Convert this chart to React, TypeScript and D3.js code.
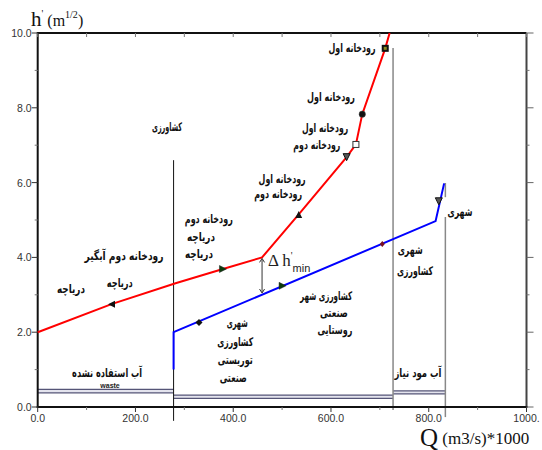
import React from "react";
import * as d3 from "d3";

const W = 542;
const H = 450;

// Red curve (supply side)
const redQ = [0, 151, 282, 379, 459, 534, 632, 651, 664, 711, 720];
const redH = [2.0, 2.75, 3.31, 3.69, 4.0, 5.15, 6.68, 7.02, 7.83, 9.59, 10.0];

// Blue curve (demand side)
const blueQ = [278, 278, 814, 831.5];
const blueH = [1.0, 2.0, 4.97, 5.98];

// Markers on curves
const redMarkQ = [151, 379, 534, 632, 651, 664, 711];
const redMarkH = [2.75, 3.69, 5.15, 6.68, 7.02, 7.83, 9.59];
const redMarkType = ["triL", "triR", "triU", "triD", "sqO", "circ", "sqF"];
const blueMarkQ = [330, 501, 705, 820.6];
const blueMarkH = [2.26, 3.24, 4.36, 5.5];
const blueMarkType = ["dia", "triR", "diaS", "triD"];

// Axis ticks
const xTickMajor = [0, 200, 400, 600, 800, 1000];
const xTickMinor = [100, 300, 500, 700, 900];
const xTickLabels = ["0.0", "200.0", "400.0", "600.0", "800.0", "1000."];
const yTickMajor = [0, 2, 4, 6, 8, 10];
const yTickMinor = [1, 3, 5, 7, 9];
const yTickLabels = ["0.0", "2.0", "4.0", "6.0", "8.0", "10.0"];

// Separators (Q, hTop, hBottom)
const sepQ = [278, 727];
const sepTop = [6.6, 9.6];
const sepBot = [-0.37, -0.08];

// Water level bands: [Q0, Q1, hUpper, hLower]
const bandQ0 = [0, 278, 727];
const bandQ1 = [278, 727, 834];
const bandHi = [0.47, 0.32, 0.43];
const bandLo = [0.38, 0.23, 0.35];

// Annotations (Persian text) in data coords
const labelText = [
  "کشاورزی",
  "رودخانه اول",
  "رودخانه اول",
  "رودخانه اول",
  "رودخانه دوم",
  "رودخانه اول",
  "رودخانه دوم",
  "رودخانه دوم",
  "دریاچه",
  "دریاچه",
  "رودخانه دوم آبگیر",
  "دریاچه",
  "دریاچه",
  "آب استفاده نشده",
  "شهری",
  "کشاورزی",
  "توریستی",
  "صنعتی",
  "کشاورزی شهر",
  "صنعتی",
  "روستایی",
  "شهری",
  "کشاورزی",
  "شهری",
  "آب مود نیاز",
];
const labelQ = [264.5, 643, 600, 588, 571, 500, 492, 350, 334, 330, 176.5, 168, 68, 142, 408, 404, 404, 400, 590, 606, 608, 762, 772, 864, 778];
const labelH = [7.49, 9.6, 8.29, 7.46, 7.01, 6.12, 5.72, 5.05, 4.57, 4.1, 4.04, 3.32, 3.16, 0.91, 2.25, 1.74, 1.26, 0.8, 2.99, 2.54, 2.06, 4.2, 3.66, 5.24, 0.91];
const labelW = [30, 47, 48, 46, 47, 47, 48, 48, 28, 28, 79, 26, 28, 70, 21, 36, 35, 27, 52, 28, 35, 25, 36, 25, 47];

const x = d3.scaleLinear().domain([0, 1000]).range([37.7, 526.5]);
const y = d3.scaleLinear().domain([0, 10]).range([407, 33]);

function Marker({ type, cx, cy }: { type: string; cx: number; cy: number }) {
  const s = 3.5;
  switch (type) {
    case "triL":
      return <path d={`M${cx - s},${cy} L${cx + s},${cy - s} L${cx + s},${cy + s} Z`} fill="#111" />;
    case "triR":
      return <path d={`M${cx + s},${cy} L${cx - s},${cy - s} L${cx - s},${cy + s} Z`} fill="#0b3b0b" stroke="#222" strokeWidth={0.5} />;
    case "triU":
      return <path d={`M${cx},${cy - s} L${cx + s},${cy + s} L${cx - s},${cy + s} Z`} fill="#111" />;
    case "triD":
      return <path d={`M${cx},${cy + s} L${cx + s},${cy - s} L${cx - s},${cy - s} Z`} fill="#555" stroke="#111" strokeWidth={1} />;
    case "sqO":
      return <rect x={cx - 3} y={cy - 3} width={6} height={6} fill="white" stroke="#333" strokeWidth={1} />;
    case "circ":
      return <circle cx={cx} cy={cy} r={3.2} fill="#111" stroke="#444" strokeWidth={0.5} />;
    case "sqF":
      return (
        <g>
          <rect x={cx - 3.5} y={cy - 3.5} width={7} height={7} fill="#111" />
          <rect x={cx - 1.5} y={cy - 1.5} width={3} height={3} fill="#8a8a20" />
        </g>
      );
    case "dia":
      return <path d={`M${cx},${cy - s} L${cx + s},${cy} L${cx},${cy + s} L${cx - s},${cy} Z`} fill="#111" />;
    case "diaS":
      return <path d={`M${cx},${cy - 3} L${cx + 2.5},${cy} L${cx},${cy + 3} L${cx - 2.5},${cy} Z`} fill="#7a1020" />;
    default:
      return null;
  }
}

export default function App() {
  const line = d3
    .line<[number, number]>()
    .x((d) => x(d[0]))
    .y((d) => y(d[1]));
  const redPts: [number, number][] = redQ.map((q, i) => [q, redH[i]]);
  const bluePts: [number, number][] = blueQ.map((q, i) => [q, blueH[i]]);

  const persianFont = "'DejaVu Sans', sans-serif";
  const tickFont = "'Liberation Sans', Arial, sans-serif";
  const serif = "'Liberation Serif', 'Times New Roman', serif";

  const dhQ = 459;
  const dhTop = 4.0;
  const dhBot = 3.02;

  return (
    <svg
      width={W}
      height={H}
      style={{ position: "absolute", left: 0, top: 0, background: "white" }}
    >
      <rect x={0} y={0} width={W} height={H} fill="white" />

      {/* water level bands */}
      {bandQ0.map((q0, i) => (
        <g key={"band" + i}>
          <rect
            x={x(q0)}
            y={y(bandHi[i])}
            width={x(bandQ1[i]) - x(q0)}
            height={y(bandLo[i]) - y(bandHi[i])}
            fill="#e4e4ee"
          />
          <line x1={x(q0)} x2={x(bandQ1[i])} y1={y(bandHi[i])} y2={y(bandHi[i])} stroke="#555577" strokeWidth={1.3} />
          <line x1={x(q0)} x2={x(bandQ1[i])} y1={y(bandLo[i])} y2={y(bandLo[i])} stroke="#555577" strokeWidth={1.3} />
        </g>
      ))}

      {/* separators */}
      <line x1={x(sepQ[0])} x2={x(sepQ[0])} y1={y(sepTop[0])} y2={y(sepBot[0])} stroke="#111" strokeWidth={1} />
      <line x1={x(sepQ[1])} x2={x(sepQ[1])} y1={y(sepTop[1])} y2={y(sepBot[1])} stroke="#888" strokeWidth={1.5} />
      <line x1={x(834)} x2={x(834)} y1={y(5.99)} y2={y(5.61)} stroke="#888" strokeWidth={1.5} />
      <line x1={x(834)} x2={x(834)} y1={y(5.08)} y2={y(-0.27)} stroke="#888" strokeWidth={1.5} />

      {/* axes */}
      <line x1={x(0)} x2={x(1000)} y1={y(10)} y2={y(10)} stroke="#111" strokeWidth={2} />
      <line x1={x(1000)} x2={x(1000)} y1={y(10)} y2={y(0)} stroke="#444" strokeWidth={2} />
      <line x1={x(0)} x2={x(0)} y1={y(10) - 1} y2={y(0) + 1} stroke="#111" strokeWidth={2} />
      <line x1={x(0) - 1} x2={x(1000) + 1} y1={y(0)} y2={y(0)} stroke="#111" strokeWidth={2} />

      {xTickMajor.map((v, i) => (
        <g key={"xt" + v}>
          <line x1={x(v)} x2={x(v)} y1={y(0)} y2={y(0) + 5} stroke="#333" />
          <line x1={x(v)} x2={x(v)} y1={y(10)} y2={y(10) + 4} stroke="#777" />
          <text x={x(v)} y={y(0) + 15} textAnchor="middle" fontSize={10.5} fontFamily={tickFont} fill="#333">
            {xTickLabels[i]}
          </text>
        </g>
      ))}
      {xTickMinor.map((v) => (
        <g key={"xm" + v}>
          <line x1={x(v)} x2={x(v)} y1={y(0)} y2={y(0) + 3} stroke="#777" />
          <line x1={x(v)} x2={x(v)} y1={y(10)} y2={y(10) + 4} stroke="#777" />
        </g>
      ))}
      {yTickMajor.map((v, i) => (
        <g key={"yt" + v}>
          <line x1={x(0) - 6} x2={x(0)} y1={y(v)} y2={y(v)} stroke="#333" />
          <line x1={x(1000)} x2={x(1000) + 7} y1={y(v)} y2={y(v)} stroke="#666" />
          <text x={x(0) - 6} y={y(v) + 4} textAnchor="end" fontSize={10.5} fontFamily={tickFont} fill="#333">
            {yTickLabels[i]}
          </text>
        </g>
      ))}
      {yTickMinor.map((v) => (
        <g key={"ym" + v}>
          <line x1={x(0) - 3} x2={x(0)} y1={y(v)} y2={y(v)} stroke="#777" />
          <line x1={x(1000)} x2={x(1000) + 3} y1={y(v)} y2={y(v)} stroke="#777" />
        </g>
      ))}

      {/* curves */}
      <path d={line(redPts) || ""} fill="none" stroke="#ff0000" strokeWidth={2} />
      <path d={line(bluePts) || ""} fill="none" stroke="#0000ff" strokeWidth={2} />

      {/* delta h arrow */}
      <line x1={x(dhQ)} x2={x(dhQ)} y1={y(dhTop) + 2} y2={y(dhBot) - 2} stroke="#333" strokeWidth={1} />
      <path d={`M${x(dhQ) - 2.5},${y(dhTop) + 5} L${x(dhQ)},${y(dhTop) + 1} L${x(dhQ) + 2.5},${y(dhTop) + 5}`} fill="none" stroke="#333" />
      <path d={`M${x(dhQ) - 2.5},${y(dhBot) - 5} L${x(dhQ)},${y(dhBot) - 1} L${x(dhQ) + 2.5},${y(dhBot) - 5}`} fill="none" stroke="#333" />

      {redMarkQ.map((q, i) => (
        <Marker key={"rm" + i} type={redMarkType[i]} cx={x(q)} cy={y(redMarkH[i])} />
      ))}
      {blueMarkQ.map((q, i) => (
        <Marker key={"bm" + i} type={blueMarkType[i]} cx={x(q)} cy={y(blueMarkH[i])} />
      ))}

      {/* Persian labels */}
      {labelText.map((t, i) => (
        <text
          key={"lb" + i}
          x={x(labelQ[i])}
          y={y(labelH[i]) + 4.5}
          textAnchor="middle"
          direction="rtl"
          fontSize={12}
          fontWeight="bold"
          fontFamily={persianFont}
          fill="#111"
          textLength={labelW[i]}
          lengthAdjust="spacingAndGlyphs"
        >
          {t}
        </text>
      ))}
      <text x={x(148)} y={y(0.59) + 3} textAnchor="middle" fontSize={7} fontWeight="bold" fontFamily={tickFont} fill="#222">
        waste
      </text>

      {/* delta h label */}
      <text x={268} y={266} fontFamily={serif} fontSize={17} fill="#222">
        Δ h
        <tspan fontSize={10} dy={-7}>'</tspan>
        <tspan fontSize={11} dy={13} fontFamily={tickFont}>min</tspan>
      </text>

      {/* axis titles */}
      <text x={31} y={26} fontFamily={serif} fontSize={21} fill="#111">
        h
        <tspan fontSize={10} dy={-9}>'</tspan>
        <tspan fontSize={16} dy={9}> (m</tspan>
        <tspan fontSize={10} dy={-8}>1/2</tspan>
        <tspan fontSize={16} dy={8}>)</tspan>
      </text>
      <text x={420} y={446} fontFamily={serif} fontSize={25} fill="#111">
        Q
        <tspan fontSize={17} dy={-2}> (m3/s)*1000</tspan>
      </text>
    </svg>
  );
}
